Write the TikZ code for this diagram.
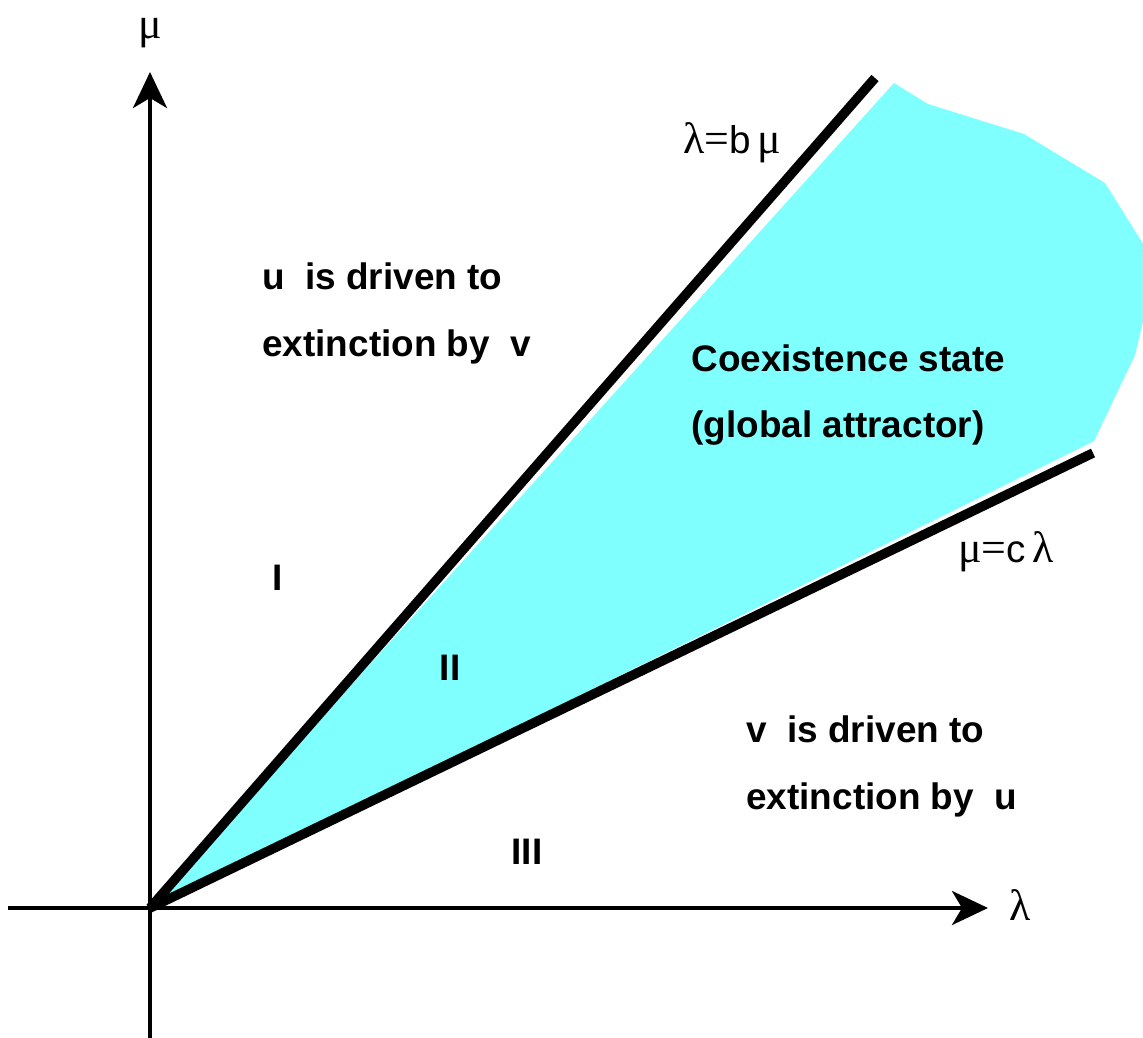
\documentclass[tikz,border=0pt]{standalone}
\usepackage{fontspec}
\setmainfont{Liberation Sans}
\newfontfamily\greekfont{Liberation Serif}
\usepackage{tikz}
\usetikzlibrary{arrows.meta,positioning,calc}
\definecolor{coexcyan}{RGB}{128,255,255}
\newcommand{\gk}[1]{{\fontsize{25}{25}\selectfont\greekfont #1}}

\begin{document}
\begin{tikzpicture}[
    axisline/.style={line width=2.2pt,-{Stealth[length=0.72cm,width=0.68cm,inset=0.2cm]}},
    borderline/.style={line width=5.4pt},
    regiontext/.style={font=\fontsize{21}{38}\selectfont\bfseries,align=left,inner sep=0pt},
    linelabel/.style={font=\fontsize{22}{25}\selectfont,inner sep=0pt,anchor=west}
  ]
  \useasboundingbox (-3,-2.58) rectangle (19.86,18.16);
  \coordinate (O) at (0,0);
  \coordinate (xs) at (-2.84,0);
  \coordinate (xe) at (16.76,0);
  \coordinate (ys) at (0,-2.6);
  \coordinate (ye) at (0,16.72);
  \coordinate (bend) at (14.5,16.6);
  \coordinate (cend) at (18.86,9.1);
  % coexistence region
  \fill[coexcyan] (O) -- (14.88,16.5) -- (15.56,16.08) -- (17.48,15.48) -- (19.1,14.5)
    -- (19.9,13.22) -- (19.9,11.9) -- (19.7,11.06) -- (18.88,9.34) -- cycle;
  % axes
  \draw[axisline] (xs) -- (xe);
  \draw[axisline] (ys) -- (ye);
  \node[inner sep=0pt] (mulab) at (0,17.5) {\gk{μ}};
  \node[inner sep=0pt] (lamlab) at (17.4,0.06) {\gk{λ}};
  % boundary lines
  \draw[borderline] (O) -- (bend);
  \draw[borderline] (O) -- (cend);
  \node[linelabel] (blab) at (10.66,15.3) {\gk{λ}\gk{=}b\,\gk{μ}};
  \node[linelabel] (clab) at (16.16,7.12) {\gk{μ}\gk{=}c\,\gk{λ}};
  % regions
  \node[regiontext,anchor=west] (utext) at (2.24,11.89) {u~ is driven to\\extinction by~ v};
  \node[regiontext,anchor=west] (coex) at (10.82,10.26) {Coexistence state\\(global attractor)};
  \node[regiontext,anchor=west] (vtext) at (11.92,2.83) {v~ is driven to\\extinction by~ u};
  \node[regiontext] (rI) at (2.56,6.6) {I};
  \node[regiontext] (rII) at (6.0,4.8) {II};
  \node[regiontext] (rIII) at (7.54,1.12) {III};
\end{tikzpicture}
\end{document}
